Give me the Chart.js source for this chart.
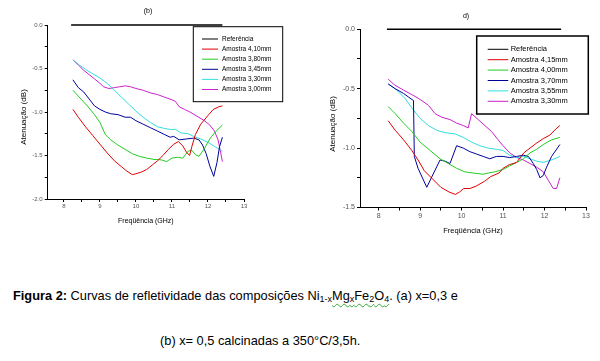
<!DOCTYPE html>
<html>
<head>
<meta charset="utf-8">
<script src="https://cdn.jsdelivr.net/npm/chart.js@4.4.1/dist/chart.umd.min.js"></script>
<style>
  body { margin: 0; background: #fff; width: 600px; height: 361px; overflow: hidden; position: relative;
         font-family: "Liberation Sans", Arial, sans-serif; }
  canvas { position: absolute; top: 0; }
  #chartB { left: 0; }
  #chartD { left: 300px; }
  .cap { position: absolute; font-size: 12.8px; color: #000; white-space: nowrap; }
  .cap sub { font-size: 70%; vertical-align: -2px; line-height: 0; }
  .spell { text-decoration: underline wavy #33aa33; text-decoration-thickness: 1px; text-underline-offset: 3px; }
</style>
</head>
<body>
<canvas id="chartB" width="300" height="240"></canvas>
<canvas id="chartD" width="300" height="240"></canvas>
<div class="cap" style="left:13px;top:288px"><b>Figura 2:</b> Curvas de refletividade das composições Ni<sub>1-x</sub><span class="spell">Mg<sub>x</sub>Fe<sub>2</sub>O<sub>4</sub></span>. (a) x=0,3 e</div>
<div class="cap" style="left:160px;top:333px">(b) x= 0,5 calcinadas a 350°C/3,5h.</div>
<script>
// ---- graph (b) ----
const bLabels = ['Referência', 'Amostra 4,10mm', 'Amostra 3,80mm', 'Amostra 3,45mm', 'Amostra 3,30mm', 'Amostra 3,00mm'];
const refFreq = [8.2, 12.4];
const refAtt = [0, 0];

const b410Freq = [8.25, 8.4, 8.6, 8.8, 9.0, 9.2, 9.4, 9.6, 9.75, 9.9, 10.0, 10.15, 10.3, 10.45, 10.6, 10.75, 10.9, 11.05, 11.18, 11.3, 11.4, 11.49, 11.55, 11.65, 11.8, 12.0, 12.15, 12.3, 12.4];
const b410Att = [-0.97, -1.06, -1.17, -1.27, -1.37, -1.47, -1.56, -1.63, -1.68, -1.72, -1.71, -1.69, -1.66, -1.61, -1.56, -1.50, -1.43, -1.37, -1.34, -1.39, -1.46, -1.50, -1.40, -1.26, -1.14, -1.04, -0.97, -0.94, -0.93];

const b380Freq = [8.25, 8.45, 8.65, 8.85, 9.0, 9.15, 9.3, 9.5, 9.7, 9.9, 10.1, 10.3, 10.5, 10.7, 10.85, 11.0, 11.15, 11.3, 11.45, 11.55, 11.65, 11.75, 11.9, 12.05, 12.2, 12.4];
const b380Att = [-0.75, -0.84, -0.93, -1.03, -1.12, -1.26, -1.32, -1.38, -1.43, -1.48, -1.51, -1.53, -1.545, -1.55, -1.57, -1.53, -1.52, -1.53, -1.45, -1.44, -1.49, -1.51, -1.42, -1.31, -1.23, -1.15];

const b345Freq = [8.25, 8.4, 8.55, 8.7, 8.85, 9.0, 9.15, 9.3, 9.5, 9.7, 9.85, 10.0, 10.2, 10.4, 10.6, 10.8, 10.95, 11.05, 11.2, 11.4, 11.6, 11.75, 11.85, 11.95, 12.05, 12.16, 12.25, 12.32, 12.4];
const b345Att = [-0.63, -0.72, -0.77, -0.85, -0.93, -0.97, -1.00, -1.02, -1.03, -1.06, -1.06, -1.10, -1.14, -1.18, -1.22, -1.26, -1.29, -1.28, -1.32, -1.31, -1.30, -1.32, -1.38, -1.48, -1.62, -1.74, -1.58, -1.40, -1.29];

const b330Freq = [8.25, 8.4, 8.6, 8.8, 9.0, 9.2, 9.4, 9.6, 9.8, 10.0, 10.2, 10.4, 10.6, 10.8, 10.95, 11.1, 11.25, 11.45, 11.6, 11.8, 12.0, 12.2, 12.4];
const b330Att = [-0.40, -0.45, -0.51, -0.56, -0.61, -0.67, -0.75, -0.83, -0.91, -0.99, -1.06, -1.12, -1.17, -1.19, -1.20, -1.20, -1.24, -1.25, -1.28, -1.31, -1.35, -1.40, -1.45];

const b300Freq = [8.25, 8.4, 8.55, 8.7, 8.85, 9.0, 9.1, 9.25, 9.4, 9.55, 9.7, 9.85, 10.0, 10.2, 10.4, 10.6, 10.8, 11.0, 11.1, 11.2, 11.35, 11.5, 11.7, 11.9, 12.05, 12.18, 12.28, 12.35, 12.4];
const b300Att = [-0.40, -0.46, -0.52, -0.57, -0.62, -0.67, -0.71, -0.73, -0.72, -0.71, -0.70, -0.71, -0.73, -0.75, -0.78, -0.80, -0.83, -0.86, -0.88, -0.94, -0.97, -1.00, -1.05, -1.10, -1.15, -1.22, -1.32, -1.46, -1.57];

// ---- graph d) ----
const dLabels = ['Referência', 'Amostra 4,15mm', 'Amostra 4,00mm', 'Amostra 3,70mm', 'Amostra 3,55mm', 'Amostra 3,30mm'];

const d415Freq = [8.23, 8.4, 8.6, 8.8, 8.95, 9.1, 9.3, 9.5, 9.7, 9.85, 9.95, 10.05, 10.2, 10.35, 10.55, 10.7, 10.9, 11.0, 11.15, 11.33, 11.5, 11.65, 11.8, 11.97, 12.13, 12.27, 12.37];
const d415Att = [-0.77, -0.85, -0.93, -1.02, -1.10, -1.19, -1.26, -1.33, -1.37, -1.39, -1.37, -1.34, -1.34, -1.32, -1.28, -1.24, -1.21, -1.17, -1.14, -1.12, -1.04, -1.00, -0.96, -0.92, -0.89, -0.84, -0.81];

const d400Freq = [8.23, 8.4, 8.6, 8.8, 9.0, 9.24, 9.48, 9.68, 9.88, 10.08, 10.28, 10.52, 10.64, 10.8, 11.0, 11.16, 11.33, 11.49, 11.65, 11.81, 11.97, 12.17, 12.37];
const d400Att = [-0.65, -0.71, -0.79, -0.86, -0.95, -1.02, -1.09, -1.13, -1.17, -1.20, -1.21, -1.22, -1.21, -1.20, -1.18, -1.15, -1.12, -1.09, -1.04, -1.01, -0.97, -0.93, -0.91];

const d370Freq = [8.23, 8.4, 8.6, 8.72, 8.84, 8.86, 8.95, 9.16, 9.48, 9.6, 9.72, 9.88, 10.04, 10.2, 10.36, 10.52, 10.68, 10.84, 11.0, 11.16, 11.33, 11.49, 11.61, 11.73, 11.81, 11.89, 11.97, 12.05, 12.17, 12.37];
const d370Att = [-0.46, -0.50, -0.54, -0.57, -0.60, -1.07, -1.17, -1.33, -1.10, -1.11, -1.13, -0.98, -1.00, -1.03, -1.05, -1.07, -1.09, -1.07, -1.07, -1.08, -1.07, -1.06, -1.07, -1.13, -1.18, -1.25, -1.23, -1.16, -1.07, -0.97];

const d355Freq = [8.23, 8.43, 8.63, 8.84, 9.0, 9.2, 9.4, 9.6, 9.84, 10.04, 10.24, 10.44, 10.64, 10.84, 11.0, 11.16, 11.33, 11.49, 11.65, 11.81, 11.97, 12.17, 12.37];
const d355Att = [-0.46, -0.51, -0.58, -0.68, -0.75, -0.81, -0.85, -0.87, -0.88, -0.91, -0.95, -0.98, -1.00, -1.01, -1.02, -1.06, -1.08, -1.07, -1.09, -1.11, -1.12, -1.10, -1.07];

const d330Freq = [8.23, 8.39, 8.59, 8.8, 9.0, 9.2, 9.36, 9.52, 9.72, 9.88, 10.04, 10.16, 10.24, 10.4, 10.56, 10.72, 10.88, 11.0, 11.16, 11.33, 11.49, 11.65, 11.81, 11.97, 12.09, 12.21, 12.29, 12.37];
const d330Att = [-0.42, -0.47, -0.51, -0.55, -0.59, -0.64, -0.71, -0.74, -0.76, -0.79, -0.81, -0.83, -0.71, -0.76, -0.81, -0.86, -0.93, -0.98, -1.04, -1.08, -1.10, -1.13, -1.16, -1.20, -1.27, -1.34, -1.34, -1.25];

// ticks
const xTicks = [8, 8.5, 9, 9.5, 10, 10.5, 11, 11.5, 12, 12.5, 13];
const bYTicks = [0, -0.25, -0.5, -0.75, -1, -1.25, -1.5, -1.75, -2];
const dYTicks = [0, -0.25, -0.5, -0.75, -1, -1.25, -1.5];

const colors = ['#000000', '#dd0000', '#22cc22', '#000099', '#33dddd', '#cc22cc'];
const fontFamily = '"Liberation Sans", Arial, sans-serif';

function toPoints(xs, ys) {
  return xs.map((x, i) => ({ x: x, y: ys[i] }));
}

function makeDatasets(labels, series) {
  return series.map((s, i) => ({
    label: labels[i],
    data: toPoints(s[0], s[1]),
    borderColor: colors[i],
    backgroundColor: colors[i],
    borderWidth: i === 0 ? 1.6 : 1,
    pointRadius: 0,
    tension: 0,
    fill: false,
    clip: false
  }));
}

// titles, axis names and the boxed legend, drawn like the Origin plot
const paperText = {
  id: 'paperText',
  afterDraw(chart, args, opts) {
    const ctx = chart.ctx;
    const a = chart.chartArea;
    ctx.save();
    ctx.fillStyle = '#000';
    ctx.textAlign = 'center';
    ctx.textBaseline = 'middle';
    ctx.font = opts.titleFont + ' ' + fontFamily;
    ctx.fillText(opts.title, opts.titleX, opts.titleY);
    ctx.font = opts.xTitleFont + ' ' + fontFamily;
    ctx.fillText('Freqüência (GHz)', (a.left + a.right) / 2, opts.xTitleY);
    ctx.translate(opts.yTitleX, opts.yTitleY);
    ctx.rotate(-Math.PI / 2);
    ctx.font = opts.yTitleFont + ' ' + fontFamily;
    ctx.fillText('Atenuação (dB)', 0, 0);
    ctx.restore();

    const L = opts.legend;
    ctx.save();
    ctx.fillStyle = '#fff';
    ctx.fillRect(L.x, L.y, L.w, L.h);
    ctx.strokeStyle = '#000';
    ctx.lineWidth = L.border;
    ctx.strokeRect(L.x, L.y, L.w, L.h);
    ctx.font = L.font + ' ' + fontFamily;
    ctx.textAlign = 'left';
    ctx.textBaseline = 'middle';
    chart.data.datasets.forEach((ds, i) => {
      const y = L.row0 + i * L.gap;
      ctx.strokeStyle = ds.borderColor;
      ctx.lineWidth = 1;
      ctx.beginPath();
      ctx.moveTo(L.lineX0, y);
      ctx.lineTo(L.lineX1, y);
      ctx.stroke();
      ctx.fillStyle = '#000';
      ctx.fillText(ds.label, L.textX, y);
    });
    ctx.restore();
  }
};

function halfLabel(v) {
  return Math.abs(v * 2 - Math.round(v * 2)) < 1e-9 ? (v === 0 ? '0.0' : v.toFixed(1)) : '';
}

function makeChart(id, labels, series, yMin, yTicks, geo, text) {
  return new Chart(document.getElementById(id).getContext('2d'), {
    type: 'line',
    data: { datasets: makeDatasets(labels, series) },
    plugins: [paperText],
    options: {
      responsive: false,
      animation: false,
      layout: { padding: { left: 0, top: geo.top, right: geo.right, bottom: 0 } },
      scales: {
        x: {
          type: 'linear', min: 7.55, max: 13,
          afterBuildTicks: s => { s.ticks = xTicks.map(v => ({ value: v })); },
          afterFit: s => { s.height = geo.xHeight; },
          ticks: {
            callback: v => Number.isInteger(v) ? String(v) : '',
            autoSkip: false, maxRotation: 0, minRotation: 0, padding: 1,
            color: '#555', font: { family: fontFamily, size: geo.tickSize }
          },
          grid: { drawOnChartArea: false, tickLength: 3, color: '#000' },
          border: { color: '#000', width: 1 }
        },
        y: {
          type: 'linear', min: yMin, max: 0,
          afterBuildTicks: s => { s.ticks = yTicks.map(v => ({ value: v })); },
          afterFit: s => { s.width = geo.yWidth; },
          ticks: {
            callback: v => halfLabel(v),
            autoSkip: false, padding: 2,
            color: '#555', font: { family: fontFamily, size: geo.tickSize }
          },
          grid: { drawOnChartArea: false, tickLength: 3, color: '#000' },
          border: { color: '#000', width: 1 }
        }
      },
      plugins: {
        legend: { display: false },
        tooltip: { enabled: false },
        paperText: text
      }
    }
  });
}

makeChart('chartB', bLabels, [
  [refFreq, refAtt], [b410Freq, b410Att], [b380Freq, b380Att],
  [b345Freq, b345Att], [b330Freq, b330Att], [b300Freq, b300Att]
], -2, bYTicks,
  { top: 25, right: 56, xHeight: 41, yWidth: 47.7, tickSize: 6 },
  {
    title: '(b)', titleX: 148, titleY: 11, titleFont: '7px',
    xTitleY: 221, xTitleFont: '7px', yTitleX: 24, yTitleY: 117, yTitleFont: '8px',
    legend: { x: 193.3, y: 26.7, w: 89.4, h: 75, border: 1, row0: 39, gap: 10.1,
              lineX0: 202, lineX1: 218, textX: 222, font: '6.5px' }
  });

makeChart('chartD', dLabels, [
  [refFreq, refAtt], [d415Freq, d415Att], [d400Freq, d400Att],
  [d370Freq, d370Att], [d355Freq, d355Att], [d330Freq, d330Att]
], -1.5, dYTicks,
  { top: 29.3, right: 14, xHeight: 32.5, yWidth: 60, tickSize: 7 },
  {
    title: 'd)', titleX: 166, titleY: 16, titleFont: '7px',
    xTitleY: 231, xTitleFont: '7.5px', yTitleX: 33, yTitleY: 124, yTitleFont: '8px',
    legend: { x: 176.7, y: 36, w: 111.6, h: 78, border: 1.5, row0: 49.3, gap: 10.4,
              lineX0: 187.7, lineX1: 208.3, textX: 210.7, font: '7.5px' }
  });
</script>
</body>
</html>
